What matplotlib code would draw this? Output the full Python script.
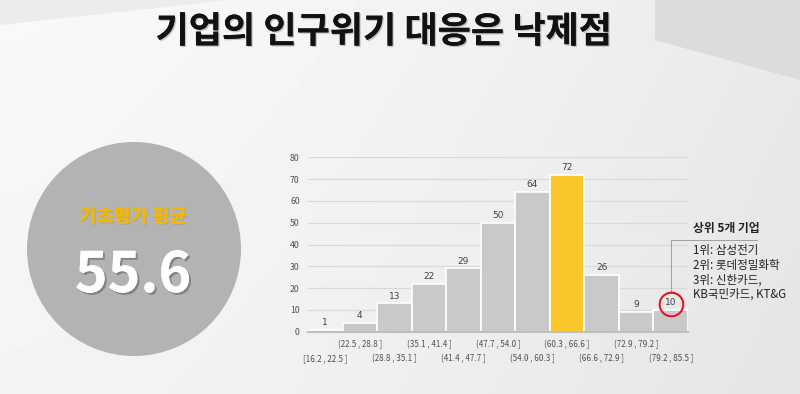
import numpy as np
import matplotlib.pyplot as plt
from matplotlib.patches import Circle, Polygon
import matplotlib.patheffects as pe

plt.rcParams['font.family'] = ['Noto Sans CJK KR', 'DejaVu Sans']

# data
bins = ['[16.2 , 22.5 ]', '(22.5 , 28.8 ]', '(28.8 , 35.1 ]', '(35.1 , 41.4 ]',
        '(41.4 , 47.7 ]', '(47.7 , 54.0 ]', '(54.0 , 60.3 ]', '(60.3 , 66.6 ]',
        '(66.6 , 72.9 ]', '(72.9 , 79.2 ]', '(79.2 , 85.5 ]']
counts = [1, 4, 13, 22, 29, 50, 64, 72, 26, 9, 10]
highlight = 7
circled = 10
title = '기업의 인구위기 대응은 낙제점'
avg_label = '기초평가 평균'
avg_value = '55.6'
top_title = '상위 5개 기업'
top_lines = ['1위: 삼성전기', '2위: 롯데정밀화학', '3위: 신한카드,', 'KB국민카드, KT&G']

W, H = 800, 394
fig = plt.figure(figsize=(W / 100, H / 100), dpi=100)

# background
bg = fig.add_axes([0, 0, 1, 1], zorder=-1)
bg.set_xlim(0, W)
bg.set_ylim(H, 0)
bg.axis('off')
xx, yy = np.meshgrid(np.linspace(0, 1, W), np.linspace(0, 1, H))
shade = 0.975 - 0.06 * xx ** 1.5 - 0.02 * yy
bg.imshow(shade, cmap='gray', vmin=0, vmax=1, extent=[0, W, H, 0], aspect='auto', zorder=0)
bg.add_patch(Polygon([[655, 0], [800, 0], [800, 80], [655, 40]], closed=True,
                     facecolor='#dcdcdc', edgecolor='none', zorder=1))
bg.add_patch(Polygon([[0, 0], [230, 0], [0, 25]], closed=True,
                     facecolor='#ececec', edgecolor='none', zorder=1))

shadow = [pe.withSimplePatchShadow(offset=(1, -1), shadow_rgbFace='#777777', alpha=0.4),
          pe.Normal()]
bg.text(384, 32, title, fontsize=26, fontweight='heavy', color='#111111',
        ha='center', va='center', zorder=3, path_effects=shadow)

# circle with the mean
bg.add_patch(Circle((134, 249), 107, facecolor='#b3b3b3', edgecolor='none', zorder=2))
bg.text(133, 217, avg_label, fontsize=13.5, fontweight='bold', color='#f5b800',
        ha='center', va='center', zorder=3,
        path_effects=[pe.withSimplePatchShadow(offset=(0.8, -0.8), shadow_rgbFace='#909090', alpha=0.35), pe.Normal()])
bg.text(133, 276, avg_value, fontsize=40, fontweight='bold', color='white',
        ha='center', va='center', zorder=3,
        path_effects=[pe.withSimplePatchShadow(offset=(1.5, -1.5), shadow_rgbFace='#555555', alpha=0.5), pe.Normal()])

# histogram
ax = fig.add_axes([308 / W, 1 - 331.7 / H, 380 / W, 174.4 / H])
ax.patch.set_alpha(0)
x = np.arange(len(counts))
colors = ['#f9c72a' if i == highlight else '#c9c9c9' for i in x]
colors[0] = '#ececec'
ax.bar(x, counts, width=1.0, color=colors, edgecolor='white', linewidth=1.2, zorder=2)
ax.set_xlim(-0.5, len(counts) - 0.5)
ax.set_ylim(0, 80)
ax.set_yticks(range(0, 81, 10))
ax.grid(axis='y', color='#d9d9d9', linewidth=0.9, zorder=0)
for s in ['top', 'right', 'left']:
    ax.spines[s].set_visible(False)
ax.spines['bottom'].set_color('#bfbfbf')
ax.spines['bottom'].set_linewidth(1.5)
ax.tick_params(axis='y', length=0, labelsize=6.3, labelcolor='#505050', pad=6)

# staggered bin labels: odd bins on the upper row, even bins on the lower row
ax.set_xticks(x[1::2])
ax.set_xticklabels(bins[1::2])
ax.set_xticks(x[0::2], minor=True)
ax.set_xticklabels(bins[0::2], minor=True)
ax.tick_params(axis='x', which='major', length=0, labelsize=5.8, labelcolor='#505050', pad=6)
ax.tick_params(axis='x', which='minor', length=0, labelsize=5.8, labelcolor='#505050', pad=16)

for i, c in enumerate(counts):
    ax.annotate(str(c), (i, c), xytext=(0, 2), textcoords='offset points',
                ha='center', va='bottom', fontsize=6.5, color='#404040',
                family='DejaVu Sans')

# callout for top companies
ax.plot([circled], [counts[circled] + 2.8], marker='o', markersize=17, markerfacecolor='none',
        markeredgecolor='#e8141c', markeredgewidth=1.5, clip_on=False, zorder=4)
ax.plot([circled, circled, 12.5], [17.7, 42, 42], color='#a0a0a0', linewidth=0.7,
        clip_on=False, zorder=3)

bg.text(693, 228, top_title, fontsize=8.5, fontweight='bold', color='#222222',
        ha='left', va='center', zorder=3)
for line, yy_ in zip(top_lines, [250, 266, 280, 294]):
    bg.text(693, yy_, line, fontsize=8.3, fontweight='medium', color='#222222',
            ha='left', va='center', zorder=3)

fig.savefig('out.png', dpi=100)
